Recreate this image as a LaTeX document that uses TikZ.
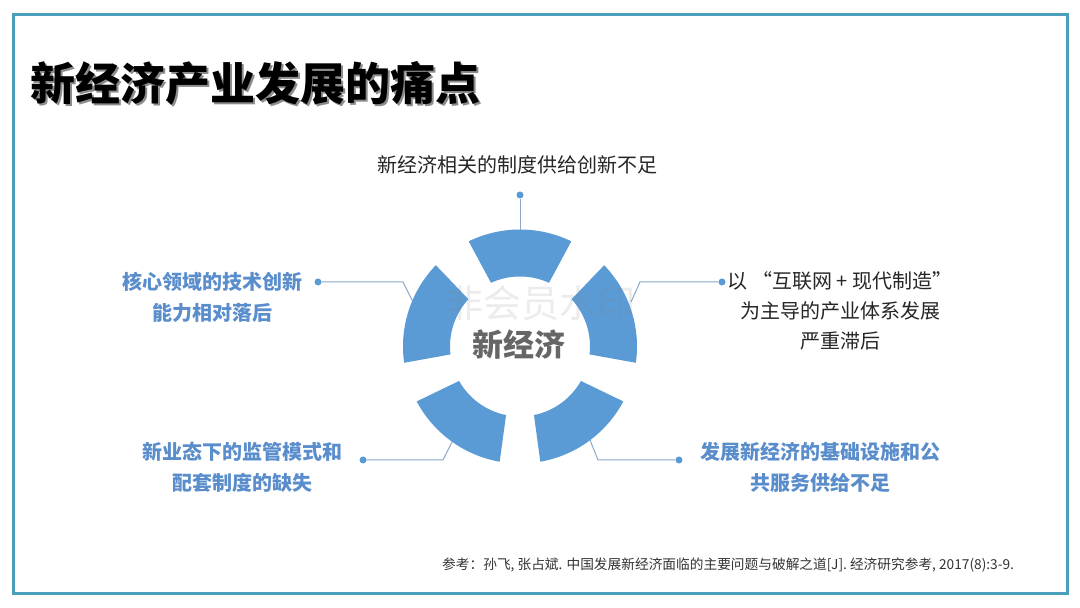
\documentclass[tikz,border=0pt]{standalone}
\usepackage{fontspec}
\setmainfont{Noto Sans CJK SC}
\definecolor{segblue}{HTML}{5B9BD5}
\definecolor{lblblue}{HTML}{5A8DCB}
\definecolor{framec}{HTML}{4A9EBE}
\definecolor{conn}{HTML}{8CA8C8}
\definecolor{centergray}{HTML}{666666}
\tikzset{
  seg/.style={fill=segblue},
  connline/.style={draw=conn, line width=1pt},
  dotnode/.style={circle, fill=segblue, inner sep=0pt, minimum size=7pt},
  bluelabel/.style={text=lblblue, font=\fontsize{20}{31}\selectfont\bfseries, align=center, inner sep=0pt},
  blacklabel/.style={text=black!85, font=\fontsize{20}{30}\selectfont, align=center, inner sep=0pt},
}
\begin{document}
\begin{tikzpicture}[x=1pt,y=1pt]
\useasboundingbox (0,0) rectangle (1080,608);
\fill[white] (0,0) rectangle (1080,608);
% frame
\draw[framec, line width=3pt] (13,593) rectangle (1067,14);
% title
\node[anchor=west, inner sep=0pt, text=black!45, font=\fontsize{45}{50}\selectfont\bfseries] (titleshadow) at (32,523) {新经济产业发展的痛点};
\node[anchor=west, inner sep=0pt, text=black, font=\fontsize{45}{50}\selectfont\bfseries] (title) at (30,525) {新经济产业发展的痛点};
% center
\coordinate (c) at (520,261.5);
% connectors (drawn first, segments cover their ends)
\node[dotnode] (dtop) at (520,413) {};
\coordinate (etop) at (520,374);
\draw[connline] (dtop) -- (etop);
\node[dotnode] (dul) at (318,326) {};
\coordinate (kul) at (403,326);
\coordinate (eul) at (413,306);
\draw[connline] (dul) -- (kul) -- (eul);
\node[dotnode] (dur) at (722,326) {};
\coordinate (kur) at (640,326);
\coordinate (eur) at (631,306);
\draw[connline] (dur) -- (kur) -- (eur);
\node[dotnode] (dll) at (363,148) {};
\coordinate (kll) at (443,148);
\coordinate (ell) at (453,168);
\draw[connline] (dll) -- (kll) -- (ell);
\node[dotnode] (dlr) at (679,148) {};
\coordinate (klr) at (598,148);
\coordinate (elr) at (590,168);
\draw[connline] (dlr) -- (klr) -- (elr);
% ring segments
\foreach \a in {90,18,-54,-126,162}{
  \fill[seg] ([shift={(\a-26:117)}]c) arc[start angle=\a-26, end angle=\a+26, radius=117]
    -- ([shift={(\a+24.5:70)}]c) arc[start angle=\a+24.5, end angle=\a-24.5, radius=70] -- cycle;
}
% center text
\node[text=centergray, font=\fontsize{31}{34}\selectfont\bfseries, inner sep=0pt] (center) at (519,263) {新经济};
% labels
\node[blacklabel] (ltop) at (517,443) {新经济相关的制度供给创新不足};
\node[bluelabel] (lul) at (212,310.5) {核心领域的技术创新\\能力相对落后};
\node[blacklabel] (lur) at (840,297) {以 “互联网 + 现代制造”\\为主导的产业体系发展\\严重滞后};
\node[bluelabel] (lll) at (242,140.5) {新业态下的监管模式和\\配套制度的缺失};
\node[bluelabel] (llr) at (820,140.5) {发展新经济的基础设施和公\\共服务供给不足};
% watermark
\node[text=gray, opacity=0.15, font=\fontsize{38}{40}\selectfont, inner sep=0pt] (wm) at (540,305) {非会员水印};
% reference
\node[anchor=west, inner sep=0pt, text=black!80, font=\fontsize{13.7}{16}\selectfont] (ref) at (442,43) {参考：孙飞, 张占斌. 中国发展新经济面临的主要问题与破解之道[J]. 经济研究参考, 2017(8):3-9.};
\end{tikzpicture}
\end{document}
